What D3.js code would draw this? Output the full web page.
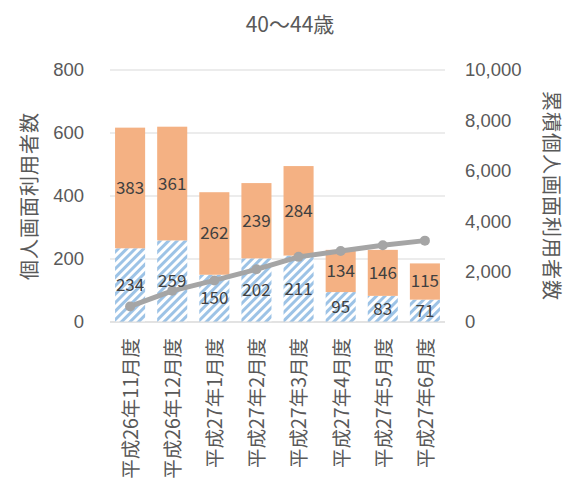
<!DOCTYPE html>
<html><head><meta charset="utf-8">
<script src="https://cdn.jsdelivr.net/npm/d3@7"></script>
<style>
body{margin:0;background:#fff;}
svg{font-family:"Noto Sans CJK JP","Noto Sans",sans-serif;}
</style></head>
<body><svg id="c" width="584" height="488"></svg>
<script>
const title = "40～44歳";
const categories = ["平成26年11月度","平成26年12月度","平成27年1月度","平成27年2月度","平成27年3月度","平成27年4月度","平成27年5月度","平成27年6月度"];
const lowerValues = [234,259,150,202,211,95,83,71];
const upperValues = [383,361,262,239,284,134,146,115];
const cumulativeValues = [617,1237,1649,2090,2585,2814,3043,3229];
const leftTicks = [0,200,400,600,800];
const rightTicks = [0,2000,4000,6000,8000,10000];
const leftTitle = "個人画面利用者数";
const rightTitle = "累積個人画面利用者数";

const svg = d3.select("#c");
const L=110, R=445, T=70, B=322;
const x = d3.scaleBand().domain(categories).range([L,R]).paddingInner(0.286).paddingOuter(0.12);
const y = d3.scaleLinear().domain([0,800]).range([B,T]);
const y2 = d3.scaleLinear().domain([0,10000]).range([B,T]);

const defs = svg.append("defs");
const pat = defs.append("pattern").attr("id","hatch").attr("patternUnits","userSpaceOnUse")
  .attr("width",6).attr("height",6).attr("patternTransform","rotate(45)");
pat.append("rect").attr("width",6).attr("height",6).attr("fill","#fff");
pat.append("rect").attr("width",3).attr("height",6).attr("fill","#9DC3E6");

// gridlines
svg.append("g").selectAll("line").data(leftTicks).join("line")
  .attr("x1",L).attr("x2",R).attr("y1",d=>y(d)).attr("y2",d=>y(d))
  .attr("stroke","#D9D9D9").attr("stroke-width",1);

// axes
const ax = svg.append("g").attr("transform",`translate(${L},0)`)
  .call(d3.axisLeft(y).tickValues(leftTicks).tickSize(0).tickPadding(26));
ax.select(".domain").remove();
ax.selectAll("text").attr("font-size",18.5).attr("fill","#595959");

const ax2 = svg.append("g").attr("transform",`translate(${R},0)`)
  .call(d3.axisRight(y2).tickValues(rightTicks).tickSize(0).tickPadding(20).tickFormat(d3.format(",")));
ax2.select(".domain").remove();
ax2.selectAll("text").attr("font-size",18.5).attr("fill","#595959");

const data = categories.map((c,i)=>({c,lo:lowerValues[i],up:upperValues[i],cum:cumulativeValues[i]}));

// bars
svg.append("g").selectAll("rect").data(data).join("rect")
  .attr("x",d=>x(d.c)).attr("width",x.bandwidth())
  .attr("y",d=>y(d.lo)).attr("height",d=>y(0)-y(d.lo)).attr("fill","url(#hatch)");
svg.append("g").selectAll("rect").data(data).join("rect")
  .attr("x",d=>x(d.c)).attr("width",x.bandwidth())
  .attr("y",d=>y(d.lo+d.up)).attr("height",d=>y(d.lo)-y(d.lo+d.up)).attr("fill","#F4B183");

// axis baseline
svg.append("line").attr("x1",L).attr("x2",R).attr("y1",B).attr("y2",B).attr("stroke","#D9D9D9");

// line
const line = d3.line().x(d=>x(d.c)+x.bandwidth()/2).y(d=>y2(d.cum));
svg.append("path").datum(data).attr("d",line).attr("fill","none").attr("stroke","#A5A5A5").attr("stroke-width",5).attr("stroke-linejoin","round");
svg.append("g").selectAll("circle").data(data).join("circle")
  .attr("cx",d=>x(d.c)+x.bandwidth()/2).attr("cy",d=>y2(d.cum)).attr("r",5).attr("fill","#A5A5A5");

// labels
const lab = svg.append("g").attr("font-size",17).attr("fill","#404040").attr("text-anchor","middle");
lab.selectAll(".lo").data(data).join("text")
  .attr("x",d=>x(d.c)+x.bandwidth()/2).attr("y",d=>(y(0)+y(d.lo))/2).attr("dy","0.35em").text(d=>d.lo);
lab.selectAll(".up").data(data).join("text")
  .attr("x",d=>x(d.c)+x.bandwidth()/2).attr("y",d=>(y(d.lo)+y(d.lo+d.up))/2).attr("dy","0.35em").text(d=>d.up);

// x labels
svg.append("g").selectAll("text").data(categories).join("text")
  .attr("transform",d=>`translate(${x(d)+x.bandwidth()/2+1},338) rotate(-90)`)
  .attr("text-anchor","end").attr("dy","0.35em").attr("font-size",19.5).attr("fill","#595959").text(d=>d);

// titles
svg.append("text").attr("x",290).attr("y",32).attr("text-anchor","middle").attr("font-size",21).attr("fill","#595959").text(title);
svg.append("text").attr("transform","translate(30,196) rotate(-90)").attr("text-anchor","middle").attr("dy","0.35em").attr("font-size",20).attr("letter-spacing",1).attr("fill","#595959").text(leftTitle);
svg.append("text").attr("transform","translate(551,196) rotate(90)").attr("text-anchor","middle").attr("dy","0.35em").attr("font-size",20).attr("letter-spacing",1).attr("fill","#595959").text(rightTitle);
</script></body></html>
